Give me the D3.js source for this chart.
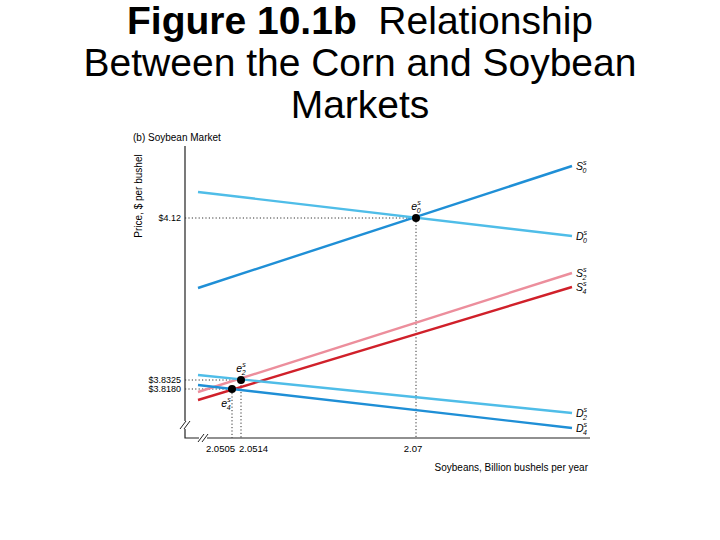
<!DOCTYPE html>
<html><head><meta charset="utf-8">
<script src="https://cdn.jsdelivr.net/npm/d3@7"></script>
<style>body{margin:0;background:#fff}text{font-family:"Liberation Sans",Arial,sans-serif}</style>
</head><body>
<svg id="c" width="720" height="540"></svg>
<script>
// schematic chart units (axis is not to scale in the original)
var curves = [
  {name: "S", sub: "0", color: "#1f8fd6", x0: 13, y0: 150, x1: 387, y1: 272},
  {name: "D", sub: "0", color: "#4fbde8", x0: 13, y0: 246, x1: 387, y1: 202},
  {name: "S", sub: "2", color: "#ec8e9c", x0: 13, y0: 46, x1: 387, y1: 165},
  {name: "S", sub: "4", color: "#d0202a", x0: 13, y0: 38, x1: 387, y1: 151},
  {name: "D", sub: "2", color: "#4fbde8", x0: 13, y0: 63, x1: 387, y1: 25},
  {name: "D", sub: "4", color: "#1f8fd6", x0: 13, y0: 53, x1: 387, y1: 10}
];
var points = [
  {name: "e", sub: "0", x: 231, y: 220, lx: 0, ly: -8},
  {name: "e", sub: "2", x: 56, y: 58, lx: 0, ly: -8},
  {name: "e", sub: "4", x: 47, y: 49, lx: -6, ly: 18}
];
var priceTicks = [{label: "$4.12", y: 220}, {label: "$3.8325", y: 58}, {label: "$3.8180", y: 49}];
var qtyTicks = [{label: "2.0505", x: 47, anchor: "end"}, {label: "2.0514", x: 56, anchor: "start"}, {label: "2.07", x: 228, anchor: "middle"}];

var svg = d3.select("#c");
var x = d3.scaleLinear().domain([0, 405]).range([185, 590]);
var y = d3.scaleLinear().domain([0, 303]).range([438, 135]);

// title
var t = svg.append("text").attr("x", 360).attr("y", 34).attr("text-anchor", "middle").attr("font-size", 39);
t.append("tspan").attr("font-weight", "bold").text("Figure 10.1b");
t.append("tspan").text("\u00a0 Relationship");
svg.append("text").attr("x", 360).attr("y", 76).attr("text-anchor", "middle").attr("font-size", 39).text("Between the Corn and Soybean");
svg.append("text").attr("x", 360).attr("y", 118).attr("text-anchor", "middle").attr("font-size", 39).text("Markets");

svg.append("text").attr("x", 133).attr("y", 141).attr("font-size", 10).text("(b) Soybean Market");
svg.append("text").attr("transform", "translate(142,196) rotate(-90)").attr("text-anchor", "middle")
  .attr("font-size", 10).text("Price, $ per bushel");
svg.append("text").attr("x", 588).attr("y", 471).attr("text-anchor", "end").attr("font-size", 10)
  .text("Soybeans, Billion bushels per year");

// axes
svg.append("path").attr("d", "M" + x(0) + "," + y(292) + "V" + y(0) + "H" + x(405))
  .attr("fill", "none").attr("stroke", "#222").attr("stroke-width", 1.2);
// axis breaks
[[x(0), y(13)], [x(18), y(0)]].forEach(function (p) {
  svg.append("rect").attr("x", p[0] - 4).attr("y", p[1] - 4).attr("width", 8).attr("height", 8).attr("fill", "#fff");
  [-2, 2].forEach(function (o) {
    svg.append("line").attr("x1", p[0] + o - 3).attr("y1", p[1] + 4).attr("x2", p[0] + o + 3).attr("y2", p[1] - 4)
      .attr("stroke", "#222").attr("stroke-width", 1);
  });
});

// dotted guides
points.forEach(function (p) {
  svg.append("path").attr("d", "M" + x(0) + "," + y(p.y) + "H" + x(p.x) + "V" + y(0))
    .attr("fill", "none").attr("stroke", "#333").attr("stroke-width", 1).attr("stroke-dasharray", "1.2,2.2");
});

// curves
curves.forEach(function (c) {
  svg.append("line").attr("x1", x(c.x0)).attr("y1", y(c.y0)).attr("x2", x(c.x1)).attr("y2", y(c.y1))
    .attr("stroke", c.color).attr("stroke-width", 2.4);
  var lab = svg.append("text").attr("x", x(c.x1) + 4).attr("y", y(c.y1) + 4).attr("font-size", 10.5).attr("font-style", "italic");
  lab.append("tspan").text(c.name);
  lab.append("tspan").attr("font-size", 7).attr("dy", -5).text("s");
  lab.append("tspan").attr("font-size", 7).attr("dx", -4).attr("dy", 8).text(c.sub);
});

// equilibria
points.forEach(function (p) {
  svg.append("circle").attr("cx", x(p.x)).attr("cy", y(p.y)).attr("r", 4).attr("fill", "#000");
  var lab = svg.append("text").attr("x", x(p.x) + p.lx).attr("y", y(p.y) + p.ly).attr("text-anchor", "middle")
    .attr("font-size", 10.5).attr("font-style", "italic");
  lab.append("tspan").text(p.name);
  lab.append("tspan").attr("font-size", 7).attr("dy", -5).text("s");
  lab.append("tspan").attr("font-size", 7).attr("dx", -4).attr("dy", 8).text(p.sub);
});

// tick labels
priceTicks.forEach(function (d) {
  svg.append("text").attr("x", x(0) - 4).attr("y", y(d.y) + 3.2).attr("text-anchor", "end").attr("font-size", 9).text(d.label);
});
qtyTicks.forEach(function (d) {
  svg.append("text").attr("x", x(d.x) + (d.anchor === "end" ? 3 : d.anchor === "start" ? -2 : 0)).attr("y", y(0) + 14)
    .attr("text-anchor", d.anchor).attr("font-size", 9.5).text(d.label);
});
</script>
</body></html>
